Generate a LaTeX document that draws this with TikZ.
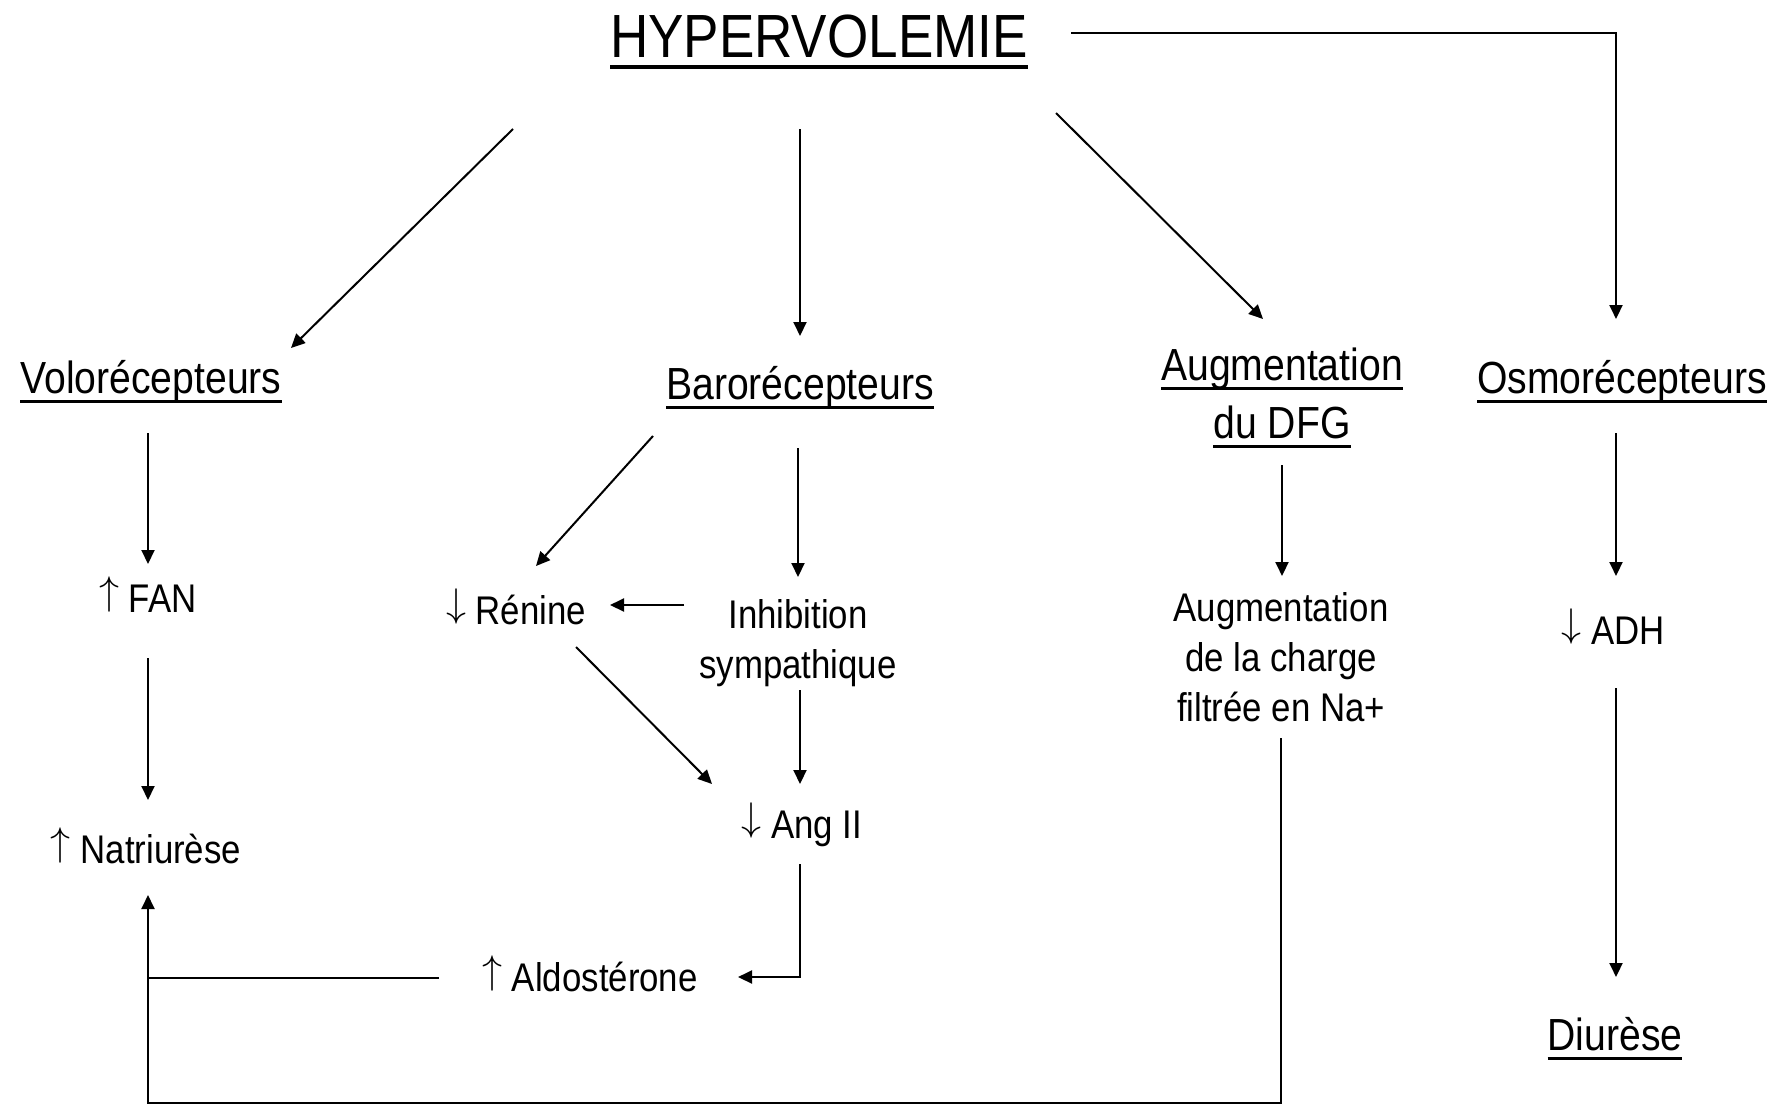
\documentclass[tikz,border=0pt]{standalone}
\usepackage{fix-cm}
\usepackage{fontspec}
\setmainfont{Liberation Sans}[FakeStretch=0.87]
\usetikzlibrary{arrows.meta}

% font sizes
\newcommand\ttlfont{\fontsize{61}{70}\selectfont}
\newcommand\hdfont{\fontsize{45}{58}\selectfont}
\newcommand\bdfont{\fontsize{40}{50}\selectfont}
% underline: #1 depth of the rule's bottom, #2 rule thickness, #3 text
\newcommand\ulbox[3]{{\setbox0=\hbox{#3}\rlap{\smash{\rule[-#1]{\wd0}{#2}}}\box0}}
\newcommand\ttlul[1]{\ulbox{12pt}{4.5pt}{#1}}
\newcommand\hdul[1]{\ulbox{10pt}{3.5pt}{#1}}
% thin up/down arrows standing on the baseline
\newcommand\upar{\raisebox{0.19em}{$\uparrow$}}
\newcommand\dnar{\raisebox{0.19em}{$\downarrow$}}

\tikzset{
  lbl/.style={inner sep=0pt, anchor=base, align=center},
  ttl/.style={lbl, font=\ttlfont},
  hd/.style={lbl, font=\hdfont},
  bd/.style={lbl, font=\bdfont},
  arr/.style={line width=2pt, -{Triangle[length=14pt,width=13pt]}},
  ln/.style={line width=2pt},
}

\begin{document}
\begin{tikzpicture}[x=1pt,y=1pt]
\useasboundingbox[fill=white] (0,0) rectangle (1787,-1106);

% labels (multi-line labels are placed by their last baseline)
\node[ttl] (title)  at (819,-57)  {\ttlul{HYPERVOLEMIE}};
\node[hd]  (volo)   at (151,-393) {\hdul{Volorécepteurs}};
\node[hd]  (baro)   at (800,-399) {\hdul{Barorécepteurs}};
\node[hd]  (dfg)    at (1282,-438) {\hdul{Augmentation}\\\hdul{du DFG}};
\node[hd]  (osmo)   at (1622,-393) {\hdul{Osmorécepteurs}};
\node[bd]  (fan)    at (148,-612) {\upar\ FAN};
\node[bd]  (natri)  at (146,-863) {\upar\ Natriurèse};
\node[bd]  (renine) at (516,-624) {\dnar\ Rénine};
\node[bd]  (inhib)  at (798,-678) {Inhibition\\sympathique};
\node[bd]  (angii)  at (802,-838) {\dnar\ Ang II};
\node[bd]  (aldo)   at (590,-991) {\upar\ Aldostérone};
\node[bd]  (charge) at (1281,-721) {Augmentation\\de la charge\\filtrée en Na+};
\node[bd]  (adh)    at (1613,-644) {\dnar\ ADH};
\node[hd]  (diur)   at (1615,-1050) {\hdul{Diurèse}};

% from the title
\draw[arr] ([shift={(-306,-72)}]title.base) -- ([shift={(140,45)}]volo.base);
\draw[arr] ([shift={(-19,-72)}]title.base) -- ([shift={(0,63)}]baro.base);
\draw[arr] ([shift={(237,-56)}]title.base) -- ([shift={(-19,119)}]dfg.base);
\draw[arr] ([shift={(252,24)}]title.base) -| ([shift={(-6,74)}]osmo.base);

% volorecepteurs column
\draw[arr] ([shift={(-3,-40)}]volo.base) -- ([shift={(0,48)}]fan.base);
\draw[arr] ([shift={(0,-46)}]fan.base) -- ([shift={(2,63)}]natri.base);

% barorecepteurs column
\draw[arr] ([shift={(-147,-37)}]baro.base) -- ([shift={(20,58)}]renine.base);
\draw[arr] ([shift={(-2,-49)}]baro.base) -- ([shift={(0,101)}]inhib.base);
\draw[arr] ([shift={(-114,73)}]inhib.base) -- ([shift={(94,19)}]renine.base);
\draw[arr] ([shift={(60,-23)}]renine.base) -- ([shift={(-90,54)}]angii.base);
\draw[arr] ([shift={(2,-12)}]inhib.base) -- ([shift={(-2,54)}]angii.base);
\draw[arr] ([shift={(-2,-26)}]angii.base) |- ([shift={(148,14)}]aldo.base);

% return to natriurese
\coordinate (natin) at ([shift={(2,-32)}]natri.base);
\coordinate (aldoL) at ([shift={(-151,13)}]aldo.base);
\draw[ln] (aldoL) -- (aldoL -| natin);
\draw[arr] ([shift={(0,-17)}]charge.base) -- ++(0,-365) -| (natin);

% DFG column
\draw[arr] ([shift={(0,-27)}]dfg.base) -- ([shift={(1,145)}]charge.base);

% osmorecepteurs column
\draw[arr] ([shift={(-6,-40)}]osmo.base) -- ([shift={(3,68)}]adh.base);
\draw[arr] ([shift={(3,-44)}]adh.base) -- ([shift={(1,73)}]diur.base);
\end{tikzpicture}
\end{document}
